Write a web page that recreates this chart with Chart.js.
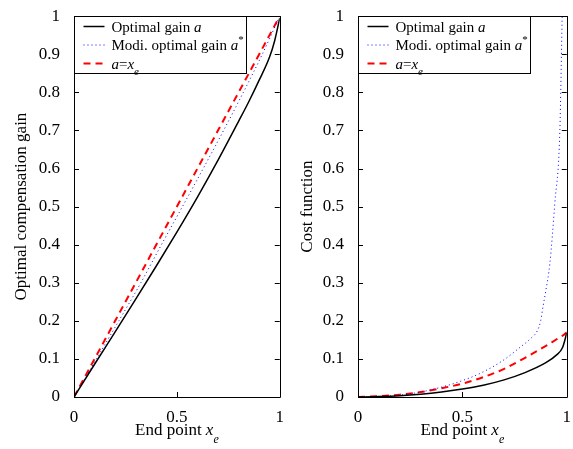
<!DOCTYPE html>
<html>
<head>
<meta charset="utf-8">
<script src="https://cdn.jsdelivr.net/npm/chart.js@4.4.1/dist/chart.umd.min.js"></script>
<style>
  body { margin: 0; background: #fff; }
  #wrap { position: relative; width: 573px; height: 449px; }
  canvas { position: absolute; top: 0; }
</style>
</head>
<body>
<div id="wrap">
  <canvas id="gainChart" width="286" height="449" style="left:0"></canvas>
  <canvas id="costChart" width="287" height="449" style="left:286px"></canvas>
</div>
<script>
// left panel: compensation gain vs end point
const gainOptX = [0, 0.1, 0.2, 0.3, 0.4, 0.5, 0.6, 0.7, 0.8, 0.85, 0.9, 0.95, 0.975, 1];
const gainOptY = [0, 0.086, 0.171, 0.257, 0.344, 0.433, 0.525, 0.622, 0.724, 0.776, 0.832, 0.892, 0.935, 0.995];
const gainModX = [0, 0.109, 0.218, 0.325, 0.425, 0.527, 0.628, 0.727, 0.823, 0.915, 1];
const gainModY = [0, 0.1, 0.2, 0.3, 0.4, 0.5, 0.6, 0.7, 0.8, 0.9, 1];
const gainLinX = [0, 1];
const gainLinY = [0, 1];

// right panel: cost function vs end point
const costX = [0, 0.1, 0.2, 0.3, 0.4, 0.5, 0.6, 0.7, 0.8, 0.9, 0.95, 0.98, 1];
const costOpt = [0, 0.001, 0.003, 0.007, 0.013, 0.021, 0.031, 0.045, 0.064, 0.09, 0.11, 0.13, 0.168];
const costLin = [0, 0.002, 0.006, 0.013, 0.023, 0.035, 0.052, 0.074, 0.103, 0.134, 0.151, 0.161, 0.17];
const costModX = [0, 0.1, 0.2, 0.3, 0.4, 0.5, 0.6, 0.7, 0.775, 0.83, 0.86, 0.875, 0.887, 0.9, 0.919, 0.943, 0.967, 0.978];
const costModY = [0, 0.001, 0.005, 0.013, 0.026, 0.043, 0.066, 0.098, 0.13, 0.155, 0.175, 0.2, 0.24, 0.28, 0.35, 0.51, 0.7, 1.0];

const xTicks = [0, 0.5, 1];
const yTicks = [0, 0.1, 0.2, 0.3, 0.4, 0.5, 0.6, 0.7, 0.8, 0.9, 1];

const FONT = "'Liberation Serif', 'Times New Roman', serif";

function pts(xs, ys) {
  return xs.map((x, i) => ({ x: x, y: ys[i] }));
}

// draw a run of text pieces: {t, it, sub, sup}
function drawRich(ctx, parts, x, y, size, align) {
  const fontOf = p => (p.it ? "italic " : "") + Math.round((p.sub || p.sup) ? size * 0.7 : size) + "px " + FONT;
  let total = 0;
  parts.forEach(p => { ctx.font = fontOf(p); total += ctx.measureText(p.t).width; });
  let cx = align === "center" ? x - total / 2 : x;
  ctx.textAlign = "left";
  ctx.textBaseline = "alphabetic";
  parts.forEach(p => {
    ctx.font = fontOf(p);
    let dy = p.sub ? size * 0.45 : p.sup ? -size * 0.45 : 0;
    ctx.fillText(p.t, cx, y + dy);
    cx += ctx.measureText(p.t).width;
  });
}

const legendItems = [
  { color: "#000", width: 1.5, dash: [], parts: [{ t: "Optimal gain " }, { t: "a", it: true }] },
  { color: "#0000ff", width: 1, dash: [1, 3], parts: [{ t: "Modi. optimal gain " }, { t: "a", it: true }, { t: "*", sup: true }] },
  { color: "#ff0000", width: 2, dash: [7, 5], parts: [{ t: "a", it: true }, { t: "=" }, { t: "x", it: true }, { t: "e", it: true, sub: true }] }
];

const framePlugin = {
  id: "frame",
  afterDraw(chart, args, opts) {
    const ctx = chart.ctx;
    const a = chart.chartArea;
    const xs = chart.scales.x, ys = chart.scales.y;
    ctx.save();
    ctx.strokeStyle = "#000";
    ctx.lineWidth = 1;
    ctx.setLineDash([]);
    ctx.beginPath();
    ctx.rect(Math.round(a.left) + 0.5, Math.round(a.top) + 0.5, Math.round(a.right - a.left), Math.round(a.bottom - a.top));
    ctx.stroke();
    // inward ticks on all four sides
    ctx.beginPath();
    yTicks.forEach(v => {
      const py = Math.round(ys.getPixelForValue(v)) + 0.5;
      ctx.moveTo(a.left, py); ctx.lineTo(a.left + 5, py);
      ctx.moveTo(a.right, py); ctx.lineTo(a.right - 5, py);
    });
    xTicks.forEach(v => {
      const px = Math.round(xs.getPixelForValue(v)) + 0.5;
      ctx.moveTo(px, a.bottom); ctx.lineTo(px, a.bottom - 5);
      ctx.moveTo(px, a.top); ctx.lineTo(px, a.top + 5);
    });
    ctx.stroke();

    // legend box
    const bx = Math.round(a.left) + 0.5, by = Math.round(a.top) + 0.5, bw = 172, bh = 57;
    ctx.fillStyle = "#fff";
    ctx.fillRect(bx, by, bw, bh);
    ctx.strokeRect(bx, by, bw, bh);
    legendItems.forEach((it, i) => {
      const ly = by + 10 + i * 18.5;
      ctx.strokeStyle = it.color;
      ctx.lineWidth = it.width;
      ctx.setLineDash(it.dash);
      ctx.beginPath();
      ctx.moveTo(bx + 9, ly); ctx.lineTo(bx + 30, ly);
      ctx.stroke();
      ctx.fillStyle = "#000";
      drawRich(ctx, it.parts, bx + 37, ly + 5, 15, "left");
    });
    ctx.setLineDash([]);

    // axis titles
    ctx.fillStyle = "#000";
    drawRich(ctx, [{ t: "End point " }, { t: "x", it: true }, { t: "e", it: true, sub: true }], (a.left + a.right) / 2, 435, 17, "center");
    ctx.translate(22, (a.top + a.bottom) / 2);
    ctx.rotate(-Math.PI / 2);
    ctx.font = "17px " + FONT;
    ctx.textAlign = "center";
    ctx.textBaseline = "middle";
    ctx.fillText(opts.yTitle, 0, 0);
    ctx.restore();
  }
};

const tickLabel = v => String(Math.round(v * 10) / 10);

function makeChart(id, datasets, yTitle, yWidth, rightPad) {
  return new Chart(document.getElementById(id), {
    type: "line",
    data: { datasets: datasets },
    options: {
      responsive: false,
      devicePixelRatio: 1,
      animation: false,
      layout: { padding: { top: 9, right: rightPad, left: 0, bottom: 0 } },
      plugins: { legend: { display: false }, tooltip: { enabled: false }, frame: { yTitle: yTitle } },
      elements: { point: { radius: 0 } },
      scales: {
        x: {
          type: "linear", min: 0, max: 1,
          afterBuildTicks: s => { s.ticks = xTicks.map(v => ({ value: v })); },
          ticks: { font: { family: FONT, size: 17 }, color: "#000", padding: 2, maxRotation: 0, callback: tickLabel },
          grid: { display: false }, border: { display: false },
          afterFit: s => { s.height = 52; }
        },
        y: {
          type: "linear", min: 0, max: 1,
          afterBuildTicks: s => { s.ticks = yTicks.map(v => ({ value: v })); },
          ticks: { font: { family: FONT, size: 17 }, color: "#000", padding: 6, callback: tickLabel },
          grid: { display: false }, border: { display: false },
          afterFit: s => { s.width = yWidth; }
        }
      }
    },
    plugins: [framePlugin]
  });
}

function ds(data, color, width, dash) {
  return {
    data: data, borderColor: color, borderWidth: width, borderDash: dash,
    cubicInterpolationMode: "monotone", fill: false
  };
}

makeChart("gainChart", [
  ds(pts(gainOptX, gainOptY), "#000", 1.5, []),
  ds(pts(gainModX, gainModY), "#0000ff", 1, [1, 3]),
  ds(pts(gainLinX, gainLinY), "#ff0000", 2, [7, 5])
], "Optimal compensation gain", 74, 4);

makeChart("costChart", [
  ds(pts(costX, costOpt), "#000", 1.5, []),
  ds(pts(costModX, costModY), "#0000ff", 1, [1, 3]),
  ds(pts(costX, costLin), "#ff0000", 2, [7, 5])
], "Cost function", 72, 6);
</script>
</body>
</html>
